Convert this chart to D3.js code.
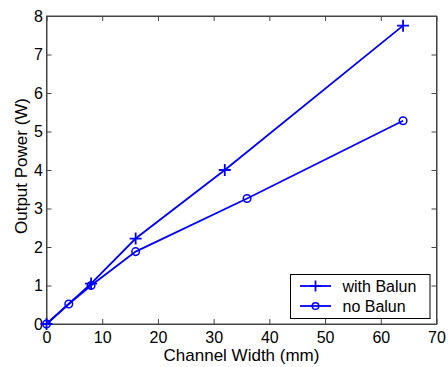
<!DOCTYPE html>
<html lang="en">
<head>
<meta charset="UTF-8">
<title>Output Power vs Channel Width</title>
<script src="https://d3js.org/d3.v7.min.js"></script>
<style>
    body { margin: 0; background: #fff; }
    svg text { font-family: "Liberation Sans", Arial, sans-serif; }
</style>
</head>
<body>
<div id="chart"></div>
<script>
    // data
    const withX = [0, 8, 16, 32, 64];
    const withY = [0, 1.05, 2.22, 4.0, 7.75];
    const noX = [0, 4, 8, 16, 36, 64];
    const noY = [0, 0.52, 1.0, 1.88, 3.26, 5.28];
    const xTicks = [0, 10, 20, 30, 40, 50, 60, 70];
    const yTicks = [0, 1, 2, 3, 4, 5, 6, 7, 8];
    const seriesNames = ["with Balun", "no Balun"];

    const W = 448, H = 367;
    const margin = { top: 16, right: 11.5, bottom: 43, left: 46.5 };
    const width = W - margin.left - margin.right;
    const height = H - margin.top - margin.bottom;

    const svg = d3.select("#chart").append("svg")
        .attr("width", W).attr("height", H);
    const g = svg.append("g")
        .attr("transform", `translate(${margin.left},${margin.top})`);

    const x = d3.scaleLinear().domain([0, 70]).range([0, width]);
    const y = d3.scaleLinear().domain([0, 8]).range([height, 0]);

    const axisColor = "#444";
    const tickLen = 5;

    // box
    g.append("rect")
        .attr("width", width).attr("height", height)
        .attr("fill", "none").attr("stroke", axisColor).attr("stroke-width", 1);

    // bottom axis
    const xb = g.append("g").attr("transform", `translate(0,${height})`)
        .call(d3.axisBottom(x).tickValues(xTicks).tickSizeInner(-tickLen).tickSizeOuter(0).tickPadding(7.5));
    // left axis
    const yl = g.append("g")
        .call(d3.axisLeft(y).tickValues(yTicks).tickSizeInner(-tickLen).tickSizeOuter(0).tickPadding(3.5));
    // top / right ticks
    const xt = g.append("g")
        .call(d3.axisTop(x).tickValues(xTicks).tickSizeInner(-tickLen).tickSizeOuter(0).tickFormat(""));
    const yr = g.append("g").attr("transform", `translate(${width},0)`)
        .call(d3.axisRight(y).tickValues(yTicks).tickSizeInner(-tickLen).tickSizeOuter(0).tickFormat(""));

    [xb, yl, xt, yr].forEach(a => {
        a.select(".domain").attr("stroke", axisColor);
        a.selectAll(".tick line").attr("stroke", axisColor);
        a.selectAll(".tick text").attr("fill", "#000").style("font-size", "16px");
    });

    g.append("text")
        .attr("x", width / 2).attr("y", height + 37)
        .attr("text-anchor", "middle").style("font-size", "17px")
        .text("Channel Width (mm)");
    g.append("text")
        .attr("transform", "rotate(-90)")
        .attr("x", -150).attr("y", -19.5)
        .attr("text-anchor", "middle").style("font-size", "17px")
        .text("Output Power (W)");

    const blue = "#0000ff";
    const line = d3.line().x(d => x(d[0])).y(d => y(d[1]));
    const withData = withX.map((v, i) => [v, withY[i]]);
    const noData = noX.map((v, i) => [v, noY[i]]);

    g.append("path").datum(withData).attr("d", line)
        .attr("fill", "none").attr("stroke", blue).attr("stroke-width", 1.8);
    g.append("path").datum(noData).attr("d", line)
        .attr("fill", "none").attr("stroke", blue).attr("stroke-width", 1.8);

    const plus = (sel, s) => sel.append("path")
        .attr("d", `M${-s},0H${s}M0,${-s}V${s}`)
        .attr("stroke", blue).attr("stroke-width", 1.8).attr("fill", "none");

    g.selectAll(".plus").data(withData).enter().append("g")
        .attr("class", "plus")
        .attr("transform", d => `translate(${x(d[0])},${y(d[1])})`)
        .each(function () { plus(d3.select(this), 6); });

    g.selectAll(".circ").data(noData).enter().append("circle")
        .attr("cx", d => x(d[0])).attr("cy", d => y(d[1])).attr("r", 3.8)
        .attr("fill", "none").attr("stroke", blue).attr("stroke-width", 1.5);

    // legend
    const lg = svg.append("g").attr("transform", "translate(290.5,274.5)");
    lg.append("rect").attr("width", 139.5).attr("height", 44)
        .attr("fill", "#fff").attr("stroke", "#000").attr("stroke-width", 1);
    seriesNames.forEach((name, i) => {
        const yy = 11.5 + i * 20;
        lg.append("line").attr("x1", 9.5).attr("x2", 40.5).attr("y1", yy).attr("y2", yy)
            .attr("stroke", blue).attr("stroke-width", 1.8);
        if (i === 0) {
            plus(lg.append("g").attr("transform", `translate(25,${yy})`), 5.5);
        } else {
            lg.append("circle").attr("cx", 25).attr("cy", yy).attr("r", 3.3)
                .attr("fill", "none").attr("stroke", blue).attr("stroke-width", 1.5);
        }
        lg.append("text").attr("x", 52).attr("y", yy + 6)
            .style("font-size", "16px").text(name);
    });
</script>
</body>
</html>
